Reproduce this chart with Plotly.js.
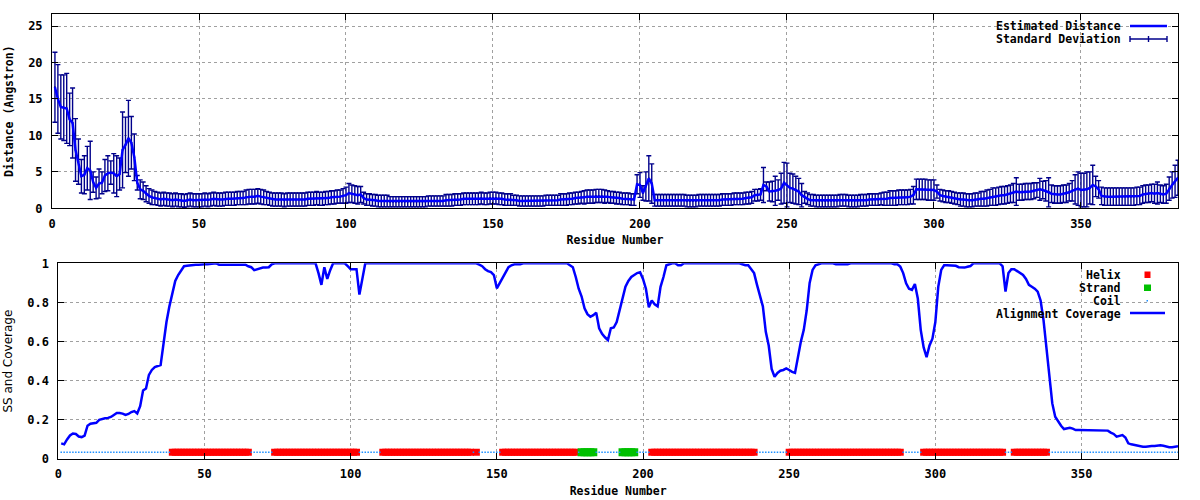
<!DOCTYPE html>
<html>
<head>
<meta charset="utf-8">
<script src="https://cdn.plot.ly/plotly-3.0.1.min.js"></script>
<style>
html,body{margin:0;padding:0;background:#ffffff;}
#chart{width:1200px;height:500px;}
</style>
</head>
<body>
<div id="chart"></div>
<script>
// ---------- DATA (residues 1..383) ----------
const estimatedDistance = [
16.6,15.0,13.9,13.8,13.7,12.2,11.7,8.0,6.4,4.4,
4.6,5.5,5.2,3.6,2.8,3.4,3.5,4.5,4.8,4.9,
4.8,4.4,4.7,8.0,8.7,9.6,9.0,7.0,3.5,2.6,
2.4,2.0,1.7,1.5,1.4,1.3,1.2,1.3,1.2,1.2,
1.1,1.2,1.1,1.1,1.0,1.1,1.2,1.1,1.1,1.1,
1.1,1.2,1.1,1.2,1.3,1.2,1.2,1.2,1.3,1.3,
1.3,1.3,1.4,1.4,1.4,1.5,1.6,1.6,1.6,1.7,
1.6,1.5,1.4,1.3,1.2,1.2,1.2,1.2,1.1,1.2,
1.2,1.2,1.2,1.2,1.2,1.2,1.3,1.3,1.3,1.4,
1.3,1.3,1.4,1.4,1.5,1.5,1.6,1.6,1.7,1.8,
2.1,2.0,1.9,1.8,1.9,1.4,1.2,1.2,1.1,1.1,
1.0,1.0,1.0,1.0,0.9,0.9,0.9,0.9,0.9,0.9,
0.9,0.9,0.9,0.9,0.9,0.9,0.9,1.0,1.0,1.0,
1.0,1.0,1.0,1.1,1.1,1.1,1.2,1.2,1.2,1.3,
1.3,1.3,1.3,1.3,1.3,1.4,1.3,1.3,1.4,1.4,
1.4,1.3,1.3,1.2,1.2,1.2,1.1,1.1,1.0,1.0,
1.0,1.0,1.0,1.0,1.0,1.0,1.0,1.1,1.1,1.1,
1.1,1.1,1.2,1.2,1.2,1.3,1.3,1.4,1.4,1.5,
1.5,1.6,1.6,1.6,1.7,1.7,1.7,1.6,1.6,1.5,
1.5,1.4,1.4,1.3,1.3,1.3,1.2,1.2,3.3,3.2,
2.1,3.0,4.1,3.4,1.1,1.1,1.1,1.1,1.1,1.1,
1.1,1.1,1.1,1.1,1.1,1.0,1.0,1.0,1.0,1.1,
1.1,1.1,1.1,1.1,1.1,1.1,1.1,1.2,1.2,1.2,
1.2,1.3,1.3,1.3,1.3,1.4,1.4,1.5,1.8,1.8,
1.9,3.2,3.0,2.3,2.3,2.4,2.5,2.7,3.5,3.2,
2.8,2.7,2.5,2.3,1.8,1.5,1.3,1.1,1.1,1.0,
1.0,1.0,1.0,1.0,1.0,1.0,1.0,1.1,1.1,1.1,
1.0,1.0,1.0,1.0,1.1,1.1,1.1,1.2,1.2,1.2,
1.2,1.3,1.3,1.3,1.4,1.4,1.4,1.5,1.5,1.5,
1.5,1.6,1.8,2.6,2.6,2.6,2.6,2.5,2.5,2.5,
2.3,1.8,1.7,1.6,1.6,1.5,1.4,1.3,1.2,1.2,
1.1,1.1,1.1,1.2,1.2,1.3,1.3,1.4,1.5,1.6,
1.6,1.7,1.8,1.8,1.9,2.0,2.1,2.3,2.2,2.2,
2.3,2.3,2.3,2.4,2.5,2.6,2.5,2.4,2.2,2.0,
1.9,1.9,1.9,2.0,2.0,2.2,2.4,2.6,2.7,2.5,
2.5,2.6,2.8,3.2,3.0,2.6,1.7,1.6,1.6,1.6,
1.6,1.6,1.6,1.6,1.6,1.6,1.6,1.6,1.7,1.7,
1.9,2.0,2.0,2.1,2.0,2.1,2.0,1.9,2.0,2.7,
3.2,3.7,4.2
];

const standardDeviation = [
4.8,4.7,4.4,4.5,4.8,3.6,4.8,4.3,3.1,2.3,
2.6,3.0,4.0,1.4,1.5,2.0,1.5,2.2,2.4,1.6,
2.7,2.8,2.2,5.2,3.8,5.2,3.6,3.2,1.0,1.3,
1.2,1.1,1.0,1.0,0.9,0.9,0.9,0.9,0.9,0.9,
0.9,0.9,0.9,0.9,0.9,0.9,0.9,0.9,0.9,0.9,
0.9,0.9,0.9,0.9,0.9,0.9,0.9,0.9,0.9,0.9,
0.9,0.9,0.9,0.9,0.9,1.0,1.0,1.0,1.0,1.0,
1.0,1.0,0.9,0.9,0.9,0.9,0.9,0.9,0.9,0.9,
0.9,0.9,0.9,0.9,0.9,0.9,0.9,0.9,0.9,0.9,
0.9,0.9,0.9,0.9,0.9,0.9,0.9,0.9,1.0,1.1,
1.3,1.2,1.2,1.2,1.1,0.8,0.8,0.8,0.8,0.8,
0.8,0.8,0.8,0.8,0.7,0.7,0.7,0.7,0.7,0.7,
0.7,0.7,0.7,0.7,0.7,0.7,0.7,0.7,0.7,0.7,
0.7,0.7,0.7,0.8,0.8,0.8,0.8,0.8,0.8,0.8,
0.8,0.8,0.8,0.8,0.8,0.8,0.8,0.8,0.8,0.8,
0.8,0.8,0.8,0.8,0.8,0.8,0.7,0.7,0.7,0.7,
0.7,0.7,0.7,0.7,0.7,0.7,0.7,0.7,0.7,0.7,
0.7,0.7,0.8,0.8,0.8,0.8,0.8,0.8,0.8,0.8,
0.9,0.9,0.9,0.9,0.9,0.9,0.9,0.9,0.8,0.8,
0.8,0.8,0.8,0.8,0.8,0.8,0.8,0.8,1.3,1.7,
1.0,2.0,3.1,2.7,0.8,0.8,0.8,0.8,0.8,0.8,
0.8,0.8,0.8,0.8,0.8,0.8,0.8,0.8,0.8,0.8,
0.8,0.8,0.8,0.8,0.8,0.8,0.8,0.8,0.8,0.8,
0.8,0.8,0.8,0.8,0.8,0.8,0.8,0.8,0.8,0.8,
0.8,2.4,0.6,1.3,1.4,2.0,1.4,2.1,2.8,3.0,
2.0,2.0,1.9,1.8,1.6,0.8,0.8,0.8,0.8,0.8,
0.8,0.8,0.8,0.8,0.8,0.8,0.8,0.8,0.8,0.8,
0.8,0.8,0.8,0.8,0.8,0.8,0.8,0.8,0.8,0.8,
0.8,0.8,0.9,0.9,1.0,1.0,1.0,1.0,1.0,1.0,
1.0,1.0,1.2,1.4,1.4,1.4,1.4,1.4,1.4,1.4,
0.9,0.8,0.8,0.8,0.8,0.8,0.8,0.8,0.9,0.9,
0.9,0.9,0.9,0.9,0.9,1.0,1.0,1.1,1.1,1.2,
1.2,1.2,1.2,1.2,1.2,1.2,1.3,1.9,1.1,1.1,
1.1,1.1,1.1,1.1,1.0,1.5,1.2,1.4,2.0,1.2,
1.2,1.2,1.2,1.2,1.2,1.2,1.4,2.0,2.3,2.3,
2.3,2.4,2.2,2.7,1.4,1.2,1.2,1.2,1.2,1.2,
1.2,1.2,1.2,1.2,1.2,1.2,1.2,1.2,1.2,1.2,
1.2,1.2,1.2,1.2,1.3,1.5,1.2,1.2,1.3,1.6,
1.8,2.2,2.4
];

const alignmentCoverage = [
0.08,0.075,0.10,0.12,0.13,0.128,0.115,0.112,0.12,0.17,
0.18,0.182,0.185,0.20,0.205,0.208,0.21,0.215,0.225,0.235,
0.235,0.232,0.225,0.23,0.24,0.245,0.233,0.27,0.35,0.36,
0.43,0.455,0.47,0.475,0.48,0.59,0.70,0.78,0.85,0.91,
0.94,0.96,0.985,0.987,0.99,0.99,0.993,0.993,0.995,0.995,
0.995,0.997,1,1,0.993,0.993,0.993,0.993,0.993,0.993,
0.993,0.993,0.993,0.993,0.985,0.98,0.965,0.97,0.975,0.978,
0.978,0.98,0.995,1,1,1,1,1,1,1,
1,1,1,1,1,1,1,1,0.95,0.89,
0.98,0.92,0.965,1,1,1,1,1,0.985,0.97,
0.97,0.97,0.84,0.915,1,1,1,1,1,1,
1,1,1,1,1,1,1,1,1,1,
1,1,1,1,1,1,1,1,1,1,
1,1,1,1,1,1,1,1,1,1,
1,1,1,0.993,0.985,0.97,0.96,0.955,0.94,0.872,
0.9,0.93,0.96,0.98,0.99,0.995,0.995,0.995,1,1,
1,1,1,1,1,1,1,1,1,1,
1,1,1,1,0.99,0.98,0.93,0.87,0.83,0.77,
0.74,0.727,0.735,0.748,0.668,0.64,0.622,0.608,0.668,0.672,
0.70,0.76,0.81,0.88,0.91,0.93,0.94,0.95,0.954,0.92,
0.87,0.775,0.81,0.79,0.78,0.88,0.93,0.99,0.995,1,
1,0.99,0.99,1,1,1,1,1,1,1,
1,1,1,1,1,1,1,1,1,1,
1,1,1,0.995,0.99,0.99,0.97,0.95,0.89,0.84,
0.78,0.65,0.58,0.46,0.42,0.44,0.451,0.455,0.463,0.455,
0.445,0.44,0.523,0.6,0.66,0.76,0.9,0.966,0.99,0.995,
1,1,1,1,1,0.995,0.995,0.995,0.995,0.995,
1,1,1,1,1,1,1,1,1,1,
1,1,1,1,1,0.995,0.995,0.983,0.95,0.898,
0.87,0.864,0.894,0.82,0.66,0.57,0.52,0.58,0.615,0.70,
0.88,0.966,0.99,0.99,0.99,0.99,0.987,0.98,0.978,0.978,
0.982,0.986,1,1,1,1,1,1,1,1,
1,1,0.985,0.855,0.95,0.97,0.97,0.96,0.95,0.94,
0.92,0.89,0.88,0.87,0.855,0.81,0.71,0.557,0.42,0.284,
0.216,0.19,0.17,0.153,0.155,0.16,0.155,0.148,0.148,0.148,
0.148,0.148,0.148,0.146,0.148,0.148,0.148,0.148,0.145,0.135,
0.128,0.114,0.12,0.122,0.11,0.08,0.075,0.072,0.068,0.063,
0.063,0.063,0.066,0.066,0.066,0.068,0.07,0.068,0.062,0.06,
0.06,0.063,0.065
];

// secondary structure segments (first residue, last residue)
const helixRanges = [[39,65],[74,102],[111,141],[143,143],[152,177],[203,238],[250,288],[296,323],[327,338]];
const strandRanges = [[179,183],[193,197]];
const ssTrackLevel = 0.035;   // value at which the SS track is plotted

const xTicks = [0,50,100,150,200,250,300,350];
const distTicks = [0,5,10,15,20,25];
const covTicks = [0,0.2,0.4,0.6,0.8,1];

// ---------- BUILD ----------
const residues = estimatedDistance.map((_, i) => i + 1);
function expand(ranges){ const out=[]; ranges.forEach(([a,b])=>{ for(let r=a;r<=b;r++) out.push(r); }); return out; }
const helixRes = expand(helixRanges);
const strandRes = expand(strandRanges);
const coilRes = residues.filter(r => !helixRes.includes(r) && !strandRes.includes(r));

const BLUE = '#0000ff', NAVY = '#00008b', RED = '#ff0000', GREEN = '#00c000', COIL = '#1e90ff';
const MONO = 'DejaVu Sans Mono';

const traces = [
  { x: residues, y: estimatedDistance, xaxis:'x', yaxis:'y', type:'scatter', mode:'markers',
    name:'Standard Deviation', marker:{size:2, color:NAVY},
    error_y:{type:'data', array:standardDeviation, visible:true, color:NAVY, thickness:1.4, width:2.5} },
  { x: residues, y: estimatedDistance, xaxis:'x', yaxis:'y', type:'scatter', mode:'lines',
    name:'Estimated Distance', line:{color:BLUE, width:2.5} },
  { x: helixRes, y: helixRes.map(() => ssTrackLevel), xaxis:'x2', yaxis:'y2', type:'scatter', mode:'markers',
    name:'Helix', marker:{symbol:'square', size:7, color:RED} },
  { x: strandRes, y: strandRes.map(() => ssTrackLevel), xaxis:'x2', yaxis:'y2', type:'scatter', mode:'markers',
    name:'Strand', marker:{symbol:'square', size:8, color:GREEN} },
  { x: coilRes, y: coilRes.map(() => ssTrackLevel), xaxis:'x2', yaxis:'y2', type:'scatter', mode:'markers',
    name:'Coil', marker:{symbol:'square', size:1.5, color:COIL} },
  { x: residues, y: alignmentCoverage, xaxis:'x2', yaxis:'y2', type:'scatter', mode:'lines',
    name:'Alignment Coverage', line:{color:BLUE, width:2.5} }
];

const W = 1200, H = 500;
const px = X => X / W;
const py = Y => 1 - Y / H;

const axisCommon = {
  ticks:'inside', ticklen:6, tickwidth:1, tickcolor:'#000',
  showline:true, linecolor:'#000', linewidth:1, mirror:'ticks',
  showgrid:true, gridcolor:'#a0a0a0', gridwidth:1, griddash:'3px,3px',
  zeroline:false, tickfont:{family:MONO, size:12, color:'#000', weight:'bold'}
};

const layout = {
  width: W, height: H,
  margin:{l:0, r:0, t:0, b:0},
  paper_bgcolor:'#ffffff', plot_bgcolor:'#ffffff',
  showlegend:false,
  font:{family:MONO, size:11.5, color:'#000'},
  xaxis: Object.assign({}, axisCommon, {
    domain:[px(52), px(1178)], range:[0,383], anchor:'y', tickvals:xTicks,
    ticklabelstandoff:4,
    title:{text:'Residue Number', standoff:6, font:{family:MONO, size:11.5, weight:'bold'}}
  }),
  yaxis: Object.assign({}, axisCommon, {
    domain:[py(208.3), py(14)], range:[0,26.65], anchor:'x', tickvals:distTicks,
    ticklabelstandoff:6,
    title:{text:'Distance (Angstron)', standoff:12, font:{family:MONO, size:11.5, weight:'bold'}}
  }),
  xaxis2: Object.assign({}, axisCommon, {
    domain:[px(58.3), px(1178)], range:[0,383], anchor:'y2', tickvals:xTicks,
    ticklabelstandoff:4,
    title:{text:'Residue Number', standoff:6, font:{family:MONO, size:11.5, weight:'bold'}}
  }),
  yaxis2: Object.assign({}, axisCommon, {
    domain:[py(459), py(263.3)], range:[0,1], anchor:'x2', tickvals:covTicks,
    ticklabelstandoff:6,
    title:{text:'SS and Coverage', standoff:12, font:{family:'DejaVu Sans', size:12}}
  }),
  shapes: [
    // opaque key areas (hide grid behind key, like gnuplot)
    {type:'rect', xref:'paper', yref:'paper', layer:'between', x0:px(992), x1:px(1171), y0:py(46), y1:py(17), fillcolor:'#fff', line:{width:0}},
    {type:'rect', xref:'paper', yref:'paper', layer:'between', x0:px(997), x1:px(1171), y0:py(321), y1:py(266), fillcolor:'#fff', line:{width:0}},
    // key samples: top panel
    {type:'line', xref:'paper', yref:'paper', x0:px(1130), x1:px(1167), y0:py(26), y1:py(26), line:{color:BLUE, width:2.5}},
    {type:'line', xref:'paper', yref:'paper', x0:px(1130), x1:px(1167), y0:py(39), y1:py(39), line:{color:NAVY, width:1.4}},
    {type:'line', xref:'paper', yref:'paper', x0:px(1130), x1:px(1130), y0:py(36), y1:py(42), line:{color:NAVY, width:1.4}},
    {type:'line', xref:'paper', yref:'paper', x0:px(1148.5), x1:px(1148.5), y0:py(36), y1:py(42), line:{color:NAVY, width:1.4}},
    {type:'line', xref:'paper', yref:'paper', x0:px(1167), x1:px(1167), y0:py(36), y1:py(42), line:{color:NAVY, width:1.4}},
    // key samples: bottom panel
    {type:'rect', xref:'paper', yref:'paper', x0:px(1144.5), x1:px(1150.5), y0:py(278), y1:py(271.5), fillcolor:RED, line:{width:0}},
    {type:'rect', xref:'paper', yref:'paper', x0:px(1144), x1:px(1151), y0:py(291), y1:py(284.5), fillcolor:GREEN, line:{width:0}},
    {type:'rect', xref:'paper', yref:'paper', x0:px(1146.5), x1:px(1148), y0:py(301.5), y1:py(300), fillcolor:COIL, line:{width:0}},
    {type:'line', xref:'paper', yref:'paper', x0:px(1130), x1:px(1165), y0:py(313), y1:py(313), line:{color:BLUE, width:2.5}}
  ],
  annotations: [
    ['Estimated Distance', 26], ['Standard Deviation', 39],
    ['Helix', 275], ['Strand', 288], ['Coil', 301], ['Alignment Coverage', 313.5]
  ].map(([t, Y]) => ({
    text:t, xref:'paper', yref:'paper', x:px(1123), y:py(Y), xanchor:'right', yanchor:'middle',
    showarrow:false, font:{family:MONO, size:11.5, color:'#000', weight:'bold'}
  }))
};

Plotly.newPlot('chart', traces, layout, {displayModeBar:false, staticPlot:true});
</script>
</body>
</html>
